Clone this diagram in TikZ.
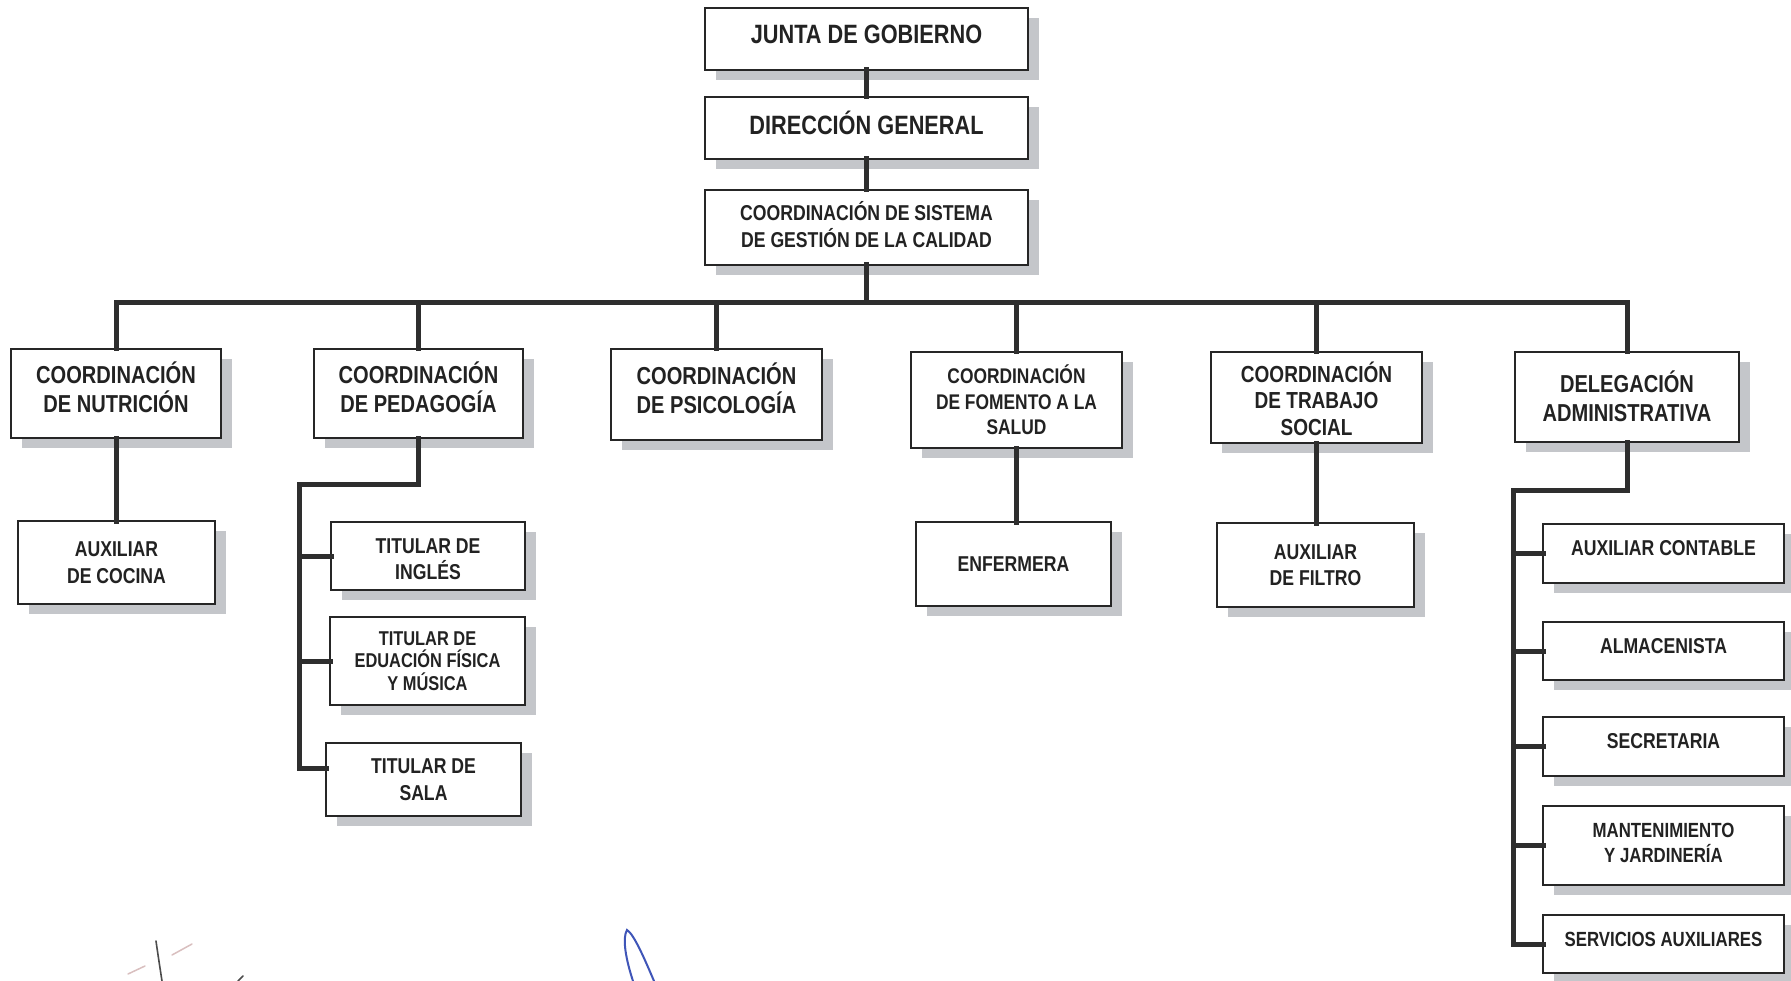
\documentclass[tikz,border=0pt]{standalone}
\usepackage{fontspec}
\setmainfont{Liberation Sans}[FakeStretch=0.82]
\definecolor{shadowc}{HTML}{C4C6CA}
\definecolor{linec}{HTML}{2E2E2E}
\definecolor{textc}{HTML}{222222}
\definecolor{sigblue}{HTML}{3F55B8}
\newcommand\szTop{\fontsize{26.5}{31}\selectfont}
\newcommand\szL{\fontsize{24.5}{29}\selectfont}
\newcommand\szM{\fontsize{21.5}{26.5}\selectfont}
\newcommand\szS{\fontsize{20.5}{25}\selectfont}
\newcommand\szXS{\fontsize{20}{22.5}\selectfont}
\tikzset{
  bx/.style={draw=black!85, line width=1.6pt, fill=white, inner sep=0pt, outer sep=0pt},
  bxtext/.style={inner sep=0pt, align=center, text=textc},
  conn/.style={draw=linec, line width=5pt, line join=miter, line cap=rect},
}
% #1 name, #2 x1, #3 y1, #4 x2, #5 y2, #6 font size command, #7 text, #8 upward text shift
\newcommand\obox[8]{%
  \fill[shadowc] ({#2+11},{#3+10}) rectangle ({#4+11},{#5+10});
  \node[bx, minimum width={#4-#2}, minimum height={#5-#3}] (#1) at ({(#2+#4)/2},{(#3+#5)/2}) {};
  \node[bxtext, font=\bfseries#6] (#1-t) at ([yshift=#8pt]#1.center) {#7};%
}
\begin{document}
\begin{tikzpicture}[x=1pt,y=-1pt]
\useasboundingbox (0,0) rectangle (1791,981);
\fill[white] (0,0) rectangle (1791,981);
% top chain
\obox{junta}{705}{8}{1028}{70}{\szTop}{JUNTA DE GOBIERNO}{5}
\obox{dir}{705}{97}{1028}{159}{\szTop}{DIRECCIÓN GENERAL}{5}
\obox{sis}{705}{190}{1028}{265}{\szM}{COORDINACIÓN DE SISTEMA\\DE GESTIÓN DE LA CALIDAD}{3}
% level 2
\obox{nut}{11}{349}{221}{438}{\szL}{COORDINACIÓN\\DE NUTRICIÓN}{6}
\obox{ped}{314}{349}{523}{438}{\szL}{COORDINACIÓN\\DE PEDAGOGÍA}{6}
\obox{psi}{611}{349}{822}{440}{\szL}{COORDINACIÓN\\DE PSICOLOGÍA}{6}
\obox{fom}{911}{352}{1122}{448}{\fontsize{21.2}{25.5}\selectfont}{COORDINACIÓN\\DE FOMENTO A LA\\SALUD}{0}
\obox{tra}{1211}{352}{1422}{443}{\fontsize{23.2}{26.5}\selectfont}{COORDINACIÓN\\DE TRABAJO\\SOCIAL}{-1}
\obox{del}{1515}{352}{1739}{442}{\szL}{DELEGACIÓN\\ADMINISTRATIVA}{1}
% level 3
\obox{coc}{18}{521}{215}{604}{\szM}{AUXILIAR\\DE COCINA}{0}
\obox{ing}{331}{522}{525}{590}{\szM}{TITULAR DE\\INGLÉS}{-3}
\obox{edu}{330}{617}{525}{705}{\szXS}{TITULAR DE\\EDUACIÓN FÍSICA\\Y MÚSICA}{0}
\obox{sal}{326}{743}{521}{816}{\szM}{TITULAR DE\\SALA}{0}
\obox{enf}{916}{522}{1111}{606}{\szM}{ENFERMERA}{0}
\obox{fil}{1217}{523}{1414}{607}{\szM}{AUXILIAR\\DE FILTRO}{0}
\obox{con}{1543}{524}{1784}{583}{\szM}{AUXILIAR CONTABLE}{5}
\obox{alm}{1543}{622}{1784}{680}{\szM}{ALMACENISTA}{5}
\obox{sec}{1543}{717}{1784}{776}{\szM}{SECRETARIA}{5}
\obox{man}{1543}{806}{1784}{885}{\szS}{MANTENIMIENTO\\Y JARDINERÍA}{3}
\obox{ser}{1543}{915}{1784}{973}{\szS}{SERVICIOS AUXILIARES}{5}
% coordinates for bus and spines
\coordinate (busR) at (1627,303);
\coordinate (pse) at (299,484);
\coordinate (psb) at (299,768);
\coordinate (dse) at (1513,490);
\coordinate (dsb) at (1513,944);
% connectors
\draw[conn] (junta.south) -- (dir.north);
\draw[conn] (dir.south) -- (sis.north);
\draw[conn] (sis.south) -- (sis.south |- busR);
\draw[conn] (nut.north) |- (busR) -- (del.north);
\draw[conn] (ped.north) -- (ped.north |- busR);
\draw[conn] (psi.north) -- (psi.north |- busR);
\draw[conn] (fom.north) -- (fom.north |- busR);
\draw[conn] (tra.north) -- (tra.north |- busR);
\draw[conn] (nut.south) -- (nut.south |- coc.north);
\draw[conn] (fom.south) -- (fom.south |- enf.north);
\draw[conn] (tra.south) -- (tra.south |- fil.north);
\draw[conn] (ped.south) |- (pse) -- (psb) -- (psb -| sal.west);
\draw[conn] (pse |- ing.west) -- (ing.west);
\draw[conn] (pse |- edu.west) -- (edu.west);
\draw[conn] (del.south) |- (dse) -- (dsb) -- (ser.west);
\draw[conn] (dse |- con.west) -- (con.west);
\draw[conn] (dse |- alm.west) -- (alm.west);
\draw[conn] (dse |- sec.west) -- (sec.west);
\draw[conn] (dse |- man.west) -- (man.west);
% signature marks
\draw[black!70, line width=1.6pt, line cap=round] (156,941) .. controls (158,955) and (160,968) .. (162,981);
\draw[red!25!gray!40, line width=1.5pt, line cap=round] (128,974) -- (145,966);
\draw[red!25!gray!40, line width=1.5pt, line cap=round] (172,955) -- (192,944);
\draw[black!70, line width=1.5pt, line cap=round] (238,981) -- (243,976);
\draw[sigblue, line width=2pt, line cap=round] (633,981) .. controls (626,960) and (622,938) .. (627,930) .. controls (634,934) and (645,960) .. (654,981);
\end{tikzpicture}
\end{document}
